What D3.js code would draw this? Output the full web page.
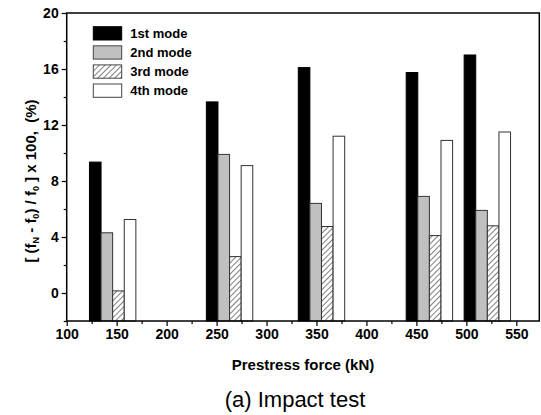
<!DOCTYPE html>
<html>
<head>
<meta charset="utf-8">
<script src="https://cdn.jsdelivr.net/npm/d3@7"></script>
<style>
	body { margin: 0; background: #fff; }
	text { font-family: Arial, 'Liberation Sans', sans-serif; }
</style>
</head>
<body>
<div id="chart"></div>
<script>
// prestress force at the centre of each bar group (kN)
const prestress = [146, 263, 355, 463, 521];
const modes = ['1st mode', '2nd mode', '3rd mode', '4th mode'];
const mode1 = [9.35, 13.65, 16.1, 15.75, 17.0];
const mode2 = [4.3, 9.9, 6.4, 6.9, 5.9];
const mode3 = [0.15, 2.6, 4.75, 4.1, 4.8];
const mode4 = [5.25, 9.1, 11.2, 10.9, 11.5];
const yTicks = [0, 4, 8, 12, 16, 20];
const xTicks = [100, 150, 200, 250, 300, 350, 400, 450, 500, 550];

const width = 541, height = 415;
const margin = {left: 66.7, top: 13, right: 1.7, bottom: 94};
const groupWidth = 46.4;

var svg = d3.select('#chart')
	.append('svg')
	.attr('width', width)
	.attr('height', height);

var defs = svg.append('defs');
var pat = defs.append('pattern')
	.attr('id', 'hatch')
	.attr('patternUnits', 'userSpaceOnUse')
	.attr('width', 4)
	.attr('height', 4)
	.attr('patternTransform', 'rotate(45)');
pat.append('rect').attr('width', 4).attr('height', 4).attr('fill', '#fff');
pat.append('line')
	.attr('x1', 0).attr('y1', 0).attr('x2', 0).attr('y2', 4)
	.attr('stroke', '#000')
	.attr('stroke-width', 1);

var xScale = d3.scaleLinear()
	.domain([100, 573])
	.range([margin.left, width - margin.right]);
var yScale = d3.scaleLinear()
	.domain([-2, 20])
	.range([height - margin.bottom, margin.top]);
var xBand = d3.scaleBand()
	.domain(modes)
	.range([-groupWidth / 2, groupWidth / 2]);

const fills = ['#000', '#c0c0c0', 'url(#hatch)', '#fff'];
var series = [mode1, mode2, mode3, mode4];

var rows = [];
series.forEach((vals, m) => {
	vals.forEach((v, i) => rows.push({mode: modes[m], m: m, x: prestress[i], v: v}));
});

svg.append('g')
	.selectAll('rect')
	.data(rows)
	.enter()
	.append('rect')
	.attr('x', d => xScale(d.x) + xBand(d.mode))
	.attr('width', xBand.bandwidth())
	.attr('y', d => yScale(d.v))
	.attr('height', d => yScale(-2) - yScale(d.v))
	.attr('fill', d => fills[d.m])
	.attr('stroke', d => d.m == 0 ? '#000' : '#333')
	.attr('stroke-width', 1);

// axes
var xAxis = g => g
	.attr('transform', `translate(0,${yScale(-2)})`)
	.call(d3.axisBottom(xScale).tickValues(xTicks).tickSize(5).tickPadding(3).tickFormat(d3.format('d')))
	.call(g => g.select('.domain').remove());
var xMinor = g => g
	.attr('transform', `translate(0,${yScale(-2)})`)
	.call(d3.axisBottom(xScale).tickValues(d3.range(125, 573, 50)).tickSize(3).tickFormat(''))
	.call(g => g.select('.domain').remove());
var yAxis = g => g
	.attr('transform', `translate(${margin.left},0)`)
	.call(d3.axisLeft(yScale).tickValues(yTicks).tickSize(5).tickPadding(3))
	.call(g => g.select('.domain').remove());
var yMinor = g => g
	.attr('transform', `translate(${margin.left},0)`)
	.call(d3.axisLeft(yScale).tickValues([-2, 2, 6, 10, 14, 18]).tickSize(3).tickFormat(''))
	.call(g => g.select('.domain').remove());

svg.append('g').call(xAxis);
svg.append('g').call(xMinor);
svg.append('g').call(yAxis);
svg.append('g').call(yMinor);

svg.selectAll('.tick line').attr('stroke', '#000').attr('stroke-width', 1.2);
svg.selectAll('.tick text')
	.attr('font-size', 14)
	.attr('font-weight', 'bold')
	.attr('font-family', 'Arial, Liberation Sans, sans-serif')
	.attr('fill', '#000');

svg.append('rect')
	.attr('x', xScale(100))
	.attr('y', yScale(20))
	.attr('width', xScale(573) - xScale(100))
	.attr('height', yScale(-2) - yScale(20))
	.attr('fill', 'none')
	.attr('stroke', '#000')
	.attr('stroke-width', 1.5);

// legend
var legend = svg.append('g')
	.selectAll('g')
	.data(modes)
	.enter()
	.append('g')
	.attr('transform', (d, i) => `translate(93.3,${26.7 + i * 19.1})`);
legend.append('rect')
	.attr('width', 28.4)
	.attr('height', 13.3)
	.attr('fill', (d, i) => fills[i])
	.attr('stroke', (d, i) => i == 0 ? '#000' : '#444');
legend.append('text')
	.attr('x', 37)
	.attr('y', 11)
	.attr('font-size', 13)
	.attr('font-weight', 'bold')
	.text(d => d);

// titles
var yTitle = svg.append('text')
	.attr('transform', 'translate(36,181) rotate(-90)')
	.attr('text-anchor', 'middle')
	.attr('font-size', 15)
	.attr('font-weight', 'bold')
	.style('white-space', 'pre');
yTitle.append('tspan').text('[ (f');
yTitle.append('tspan').attr('font-size', 9).attr('dy', 3).text('N');
yTitle.append('tspan').attr('dy', -3).text(' - f');
yTitle.append('tspan').attr('font-size', 9).attr('dy', 3).text('0');
yTitle.append('tspan').attr('dy', -3).text(') / f');
yTitle.append('tspan').attr('font-size', 9).attr('dy', 3).text('0');
yTitle.append('tspan').attr('dy', -3).text(' ] x 100,  (%)');

svg.append('text')
	.attr('x', 303)
	.attr('y', 370)
	.attr('text-anchor', 'middle')
	.attr('font-size', 15)
	.attr('font-weight', 'bold')
	.text('Prestress force (kN)');

svg.append('text')
	.attr('x', 295)
	.attr('y', 407)
	.attr('text-anchor', 'middle')
	.attr('font-size', 22)
	.text('(a) Impact test');
</script>
</body>
</html>
